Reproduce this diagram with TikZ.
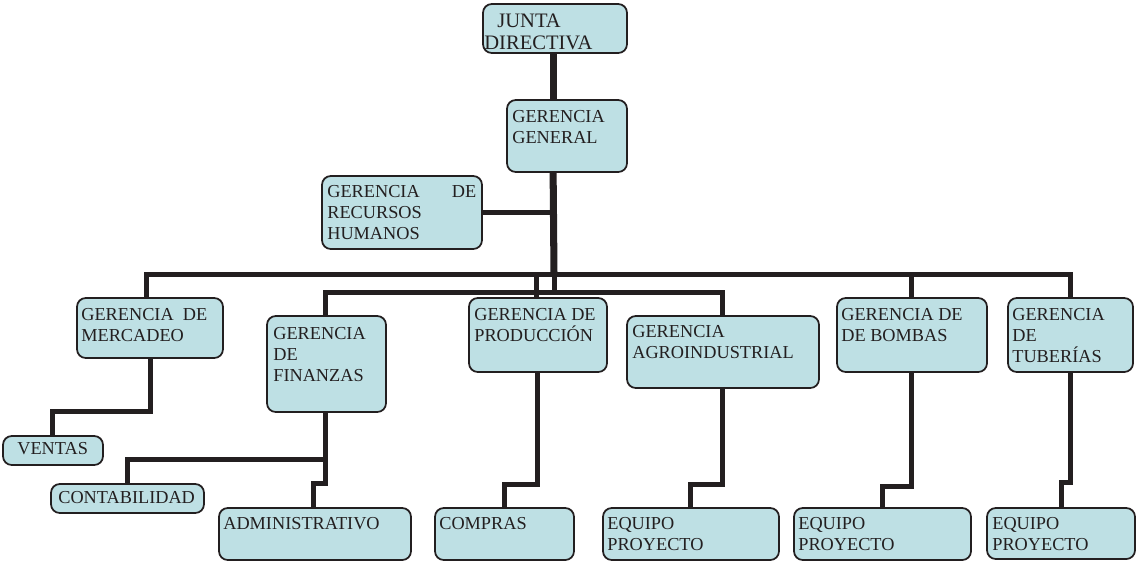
\documentclass[tikz,border=0pt]{standalone}
\usepackage{fontspec}
\setmainfont{Liberation Serif}
\usetikzlibrary{fit,calc}
\definecolor{boxfill}{RGB}{190,224,228}
\definecolor{ink}{RGB}{35,31,32}
\pgfdeclarelayer{bg}
\pgfsetlayers{bg,main}
\begin{document}
\begin{tikzpicture}[x=0.02cm,y=-0.02cm,
  orgbox/.style={draw=ink, line width=1pt, fill=boxfill, rounded corners=5pt, inner sep=0pt},
  conn/.style={draw=ink, line width=2.85pt},
  trunk/.style={draw=ink, line width=4pt},
  lbl/.style={anchor=base west, inner sep=0pt, text=ink, font=\fontsize{10.4}{12}\selectfont}]
\useasboundingbox (0,0) rectangle (1136,562);

% boxes
\node[orgbox, fit={(483,4) (627,53)}] (jd) {};
\node[orgbox, fit={(507,100) (627,172)}] (gg) {};
\node[orgbox, fit={(322,176) (482,249)}] (rh) {};
\node[orgbox, fit={(77,298) (223,358)}] (mer) {};
\node[orgbox, fit={(267,316) (386,412)}] (fin) {};
\node[orgbox, fit={(469,298) (607,372)}] (pro) {};
\node[orgbox, fit={(627,316) (819,388)}] (agr) {};
\node[orgbox, fit={(837,298) (987,372)}] (bom) {};
\node[orgbox, fit={(1008,298) (1133,372)}] (tub) {};
\node[orgbox, fit={(3,436) (103,465)}] (ven) {};
\node[orgbox, fit={(51,484) (204,513)}] (con) {};
\node[orgbox, fit={(219,508) (411,560)}] (adm) {};
\node[orgbox, fit={(435,508) (574,560)}] (com) {};
\node[orgbox, fit={(603,508) (779,560)}] (eq1) {};
\node[orgbox, fit={(794,508) (971,560)}] (eq2) {};
\node[orgbox, fit={(987,508) (1135,559)}] (eq3) {};

% texts
\node[lbl, font=\fontsize{11.7}{13}\selectfont] (tjd) at (484,27) {\vtop{\hbox{\kern7.4pt JUNTA}\hbox{DIRECTIVA}}};
\node[lbl] (tgg) at (512,122) {\vtop{\hbox{GERENCIA}\hbox{GENERAL}}};
\node[lbl] (trh) at (327,197) {\vtop{\hbox to 84.8pt{GERENCIA\hfill DE}\hbox{RECURSOS}\hbox{HUMANOS}}};
\node[lbl] (tmer) at (81,320) {\vtop{\hbox to 71.7pt{GERENCIA\hfill DE}\hbox{MERCADEO}}};
\node[lbl] (tfin) at (273,339) {\vtop{\hbox{GERENCIA}\hbox{DE}\hbox{FINANZAS}}};
\node[lbl] (tpro) at (474,320) {\vtop{\hbox{GERENCIA DE}\hbox{PRODUCCIÓN}}};
\node[lbl] (tagr) at (632,337) {\vtop{\hbox{GERENCIA}\hbox{AGROINDUSTRIAL}}};
\node[lbl] (tbom) at (841,320) {\vtop{\hbox{GERENCIA DE}\hbox{DE BOMBAS}}};
\node[lbl] (ttub) at (1012,320) {\vtop{\hbox{GERENCIA}\hbox{DE}\hbox{TUBERÍAS}}};
\node[lbl] (tven) at (17,454) {VENTAS};
\node[lbl] (tcon) at (58,503) {CONTABILIDAD};
\node[lbl] (tadm) at (223,529) {ADMINISTRATIVO};
\node[lbl] (tcom) at (439,529) {COMPRAS};
\node[lbl] (teq1) at (607,529) {\vtop{\hbox{EQUIPO}\hbox{PROYECTO}}};
\node[lbl] (teq2) at (798,529) {\vtop{\hbox{EQUIPO}\hbox{PROYECTO}}};
\node[lbl] (teq3) at (992,529) {\vtop{\hbox{EQUIPO}\hbox{PROYECTO}}};

% junctions and attach points
\coordinate (j1) at (554,274);
\coordinate (j2) at (554,292);
\coordinate (mt) at ($(mer.north west)+(70,0)$);
\coordinate (ft) at ($(fin.north west)+(59,0)$);
\coordinate (pt) at ($(pro.north west)+(68,0)$);
\coordinate (at) at ($(agr.north west)+(96,0)$);
\coordinate (bt) at ($(bom.north west)+(75,0)$);
\coordinate (tt) at ($(tub.north west)+(63,0)$);

\begin{pgfonlayer}{bg}
\draw[trunk] ($(jd.south west)+(71,0)$) -- ($(gg.north west)+(47,0)$);
\draw[trunk] ($(gg.south west)+(47,0)$) -- (j1);
\draw[conn] (j1) -- (j2);
\draw[conn] (rh.east) -- (rh.east -| j1);
% upper bus
\draw[conn] (mt) -- (mt |- j1) -- (tt |- j1) -- (tt);
\draw[conn] (pt |- j1) -- (pt);
\draw[conn] (bt |- j1) -- (bt);
% lower bus
\draw[conn] (ft) -- (ft |- j2) -- (at |- j2) -- (at);
% lower branches
\draw[conn] ($(mer.south west)+(74,0)$) |- ($(ven.north west)+(50,-24)$) -- ($(ven.north west)+(50,0)$);
\draw[conn] ($(fin.south west)+(59,0)$) |- ($(con.north west)+(77,-24)$) -- ($(con.north west)+(77,0)$);
\draw[conn] ($(fin.south west)+(59,0)$) |- ($(adm.north west)+(95,-24)$) -- ($(adm.north west)+(95,0)$);
\draw[conn] ($(pro.south west)+(69,0)$) |- ($(com.north west)+(70,-23)$) -- ($(com.north west)+(70,0)$);
\draw[conn] ($(agr.south west)+(96,0)$) |- ($(eq1.north west)+(88,-23)$) -- ($(eq1.north west)+(88,0)$);
\draw[conn] ($(bom.south west)+(75,0)$) |- ($(eq2.north west)+(89,-21)$) -- ($(eq2.north west)+(89,0)$);
\draw[conn] ($(tub.south west)+(63,0)$) |- ($(eq3.north west)+(75,-25)$) -- ($(eq3.north west)+(75,0)$);
\end{pgfonlayer}
\end{tikzpicture}
\end{document}
